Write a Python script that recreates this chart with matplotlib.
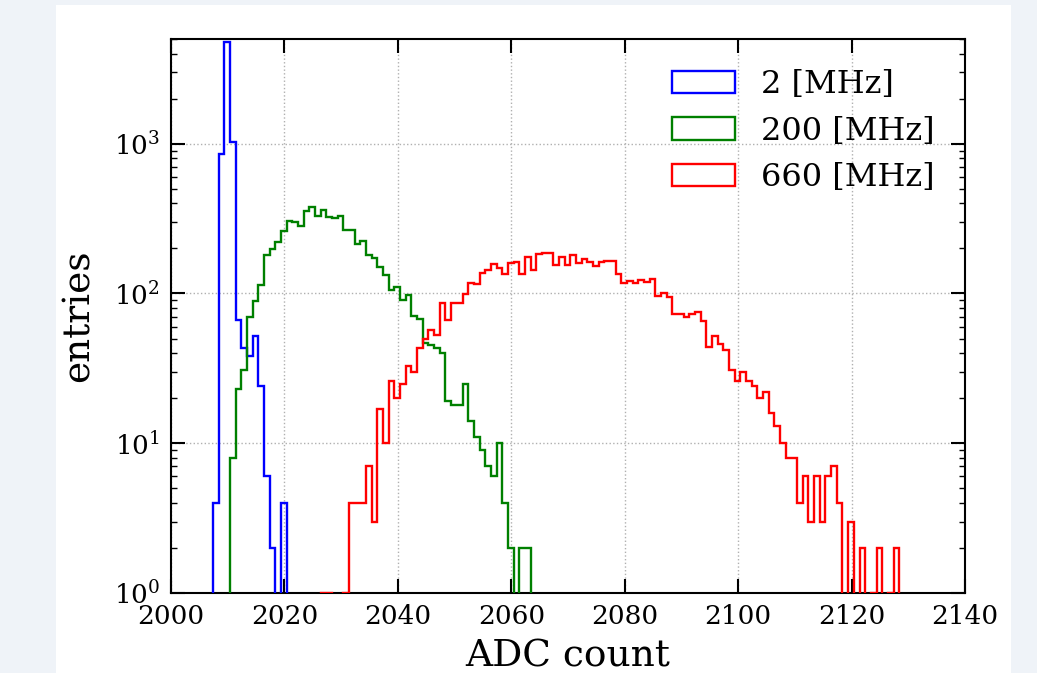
import numpy as np
import matplotlib.pyplot as plt
from matplotlib.patches import Rectangle
from matplotlib.ticker import NullLocator

# histogram contents, bin width 1 ADC count
labels = ['2 [MHz]', '200 [MHz]', '660 [MHz]']
colors = ['blue', 'green', 'red']
bin_width = 1.0

start_2mhz = 2007.4
counts_2mhz = [4, 850, 4800, 1020, 67, 43, 38, 52, 24, 6, 2, 0, 4]

start_200mhz = 2010.4
counts_200mhz = [8, 23, 31, 70, 89, 114, 182, 199, 222, 263,
                 305, 300, 281, 354, 375, 330, 360, 324, 319, 331,
                 267, 267, 214, 225, 181, 172, 150, 133, 106, 111,
                 91, 98, 71, 68, 47, 45, 43, 40, 19, 18,
                 18, 25, 14, 11, 9, 7, 6, 10, 4, 2,
                 0, 2, 2]

start_660mhz = 2026.4
counts_660mhz = [1, 1, 0, 0, 1, 4, 4, 4, 7, 3,
                 17, 10, 26, 20, 25, 33, 30, 43, 50, 57,
                 53, 86, 66, 86, 86, 99, 118, 115, 138, 143,
                 157, 147, 135, 159, 162, 134, 175, 143, 183, 185,
                 186, 155, 175, 156, 181, 159, 171, 162, 153, 162,
                 165, 165, 135, 118, 122, 118, 123, 120, 125, 96,
                 100, 94, 73, 73, 70, 73, 75, 65, 44, 52,
                 46, 42, 31, 26, 30, 26, 24, 20, 22, 16,
                 13, 10, 8, 8, 4, 6, 3, 6, 3, 6,
                 7, 4, 0, 3, 0, 2, 0, 1, 2, 0,
                 1, 2]

xticks = np.arange(2000, 2141, 20)

plt.rcParams['font.family'] = ['DejaVu Serif']
plt.rcParams['mathtext.fontset'] = 'dejavuserif'

fig = plt.figure(figsize=(10.37, 6.73), dpi=100)
fig.patch.set_facecolor('#eff3f8')
# white card behind the plot
fig.patches.append(Rectangle((56 / 1037, 0), (1011 - 56) / 1037, 668 / 673,
                             transform=fig.transFigure, facecolor='white',
                             edgecolor='none', zorder=-10))

ax = fig.add_axes([171 / 1037, 80 / 673, 794 / 1037, 554 / 673])
ax.set_yscale('log')

series = [(start_2mhz, counts_2mhz), (start_200mhz, counts_200mhz),
          (start_660mhz, counts_660mhz)]
for (start, counts), lab, col in zip(series, labels, colors):
    edges = start + bin_width * np.arange(len(counts) + 1)
    centers = edges[:-1] + bin_width / 2
    ax.hist(centers, bins=edges, weights=counts, histtype='step',
            color=col, linewidth=1.7, label=lab, zorder=3)

ax.set_xlim(2000, 2140)
ax.set_ylim(1, 5000)
ax.set_xticks(xticks)
ax.xaxis.set_minor_locator(NullLocator())

ax.grid(True, which='major', linestyle=':', color='#b0b0b0', linewidth=1)
ax.set_axisbelow(True)

ax.tick_params(which='both', direction='in', top=True, right=True)
ax.tick_params(which='major', length=10, width=1.5, labelsize=19, pad=8)
ax.tick_params(which='minor', length=4.5, width=1.0)
for sp in ax.spines.values():
    sp.set_linewidth(1.5)

ax.set_xlabel('ADC count', fontsize=27, labelpad=7)
ax.set_ylabel('entries', fontsize=27, labelpad=12)

ax.legend(loc='upper right', frameon=False, fontsize=23,
          handlelength=2.0, handleheight=0.7, handletextpad=0.8,
          labelspacing=0.48, borderaxespad=0.55)

fig.savefig('out.png', dpi=100, facecolor=fig.get_facecolor())
